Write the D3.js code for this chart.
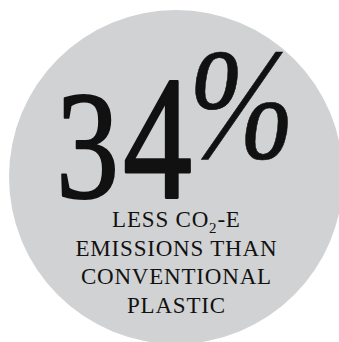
<!DOCTYPE html>
<html><head><meta charset="utf-8">
<script src="https://cdn.jsdelivr.net/npm/d3@7"></script>
<style>html,body{margin:0;padding:0;background:#fff;}svg{display:block}</style>
</head><body>
<script>
// ---- data ----
const value = [34];
const valueSuffix = ["%"];
const labelLines = ["LESS CO₂-E", "EMISSIONS THAN", "CONVENTIONAL", "PLASTIC"];

// ---- layout ----
const W = 339, H = 342;
const circle = {cx: 176, cy: 177, r: 167, fill: "#d1d2d4"};
const ink = "#111";
const serif = "'Liberation Serif', 'Times New Roman', serif";

// target ink boxes for headline glyphs [x0, y0, x1, y1]
const glyphBoxes = [[62, 93, 115, 198], [125, 80, 190, 197], [195, 52, 288, 160]];
const glyphStyles = ["normal", "normal", "italic"];
const glyphStroke = [2, 2.5, 0.6];

const svg = d3.select("body").append("svg").attr("width", W).attr("height", H);

svg.append("circle").attr("cx", circle.cx).attr("cy", circle.cy).attr("r", circle.r).attr("fill", circle.fill);

const ctx = document.createElement("canvas").getContext("2d");
const F = 150;
function inkBox(ch, style) {
  ctx.font = `${style} ${F}px 'Liberation Serif'`;
  ctx.textBaseline = "alphabetic"; ctx.textAlign = "left";
  const m = ctx.measureText(ch);
  return {x0: -m.actualBoundingBoxLeft, x1: m.actualBoundingBoxRight, y0: -m.actualBoundingBoxAscent, y1: m.actualBoundingBoxDescent};
}

const glyphs = String(value[0]).split("").concat(valueSuffix);
glyphs.forEach((ch, i) => {
  const b = inkBox(ch, glyphStyles[i]);
  const t = glyphBoxes[i];
  const sx = (t[2] - t[0]) / (b.x1 - b.x0);
  const sy = (t[3] - t[1]) / (b.y1 - b.y0);
  const tx = t[0] - sx * b.x0, ty = t[1] - sy * b.y0;
  svg.append("text")
    .attr("transform", `translate(${tx},${ty}) scale(${sx},${sy})`)
    .attr("font-family", serif).attr("font-size", F).attr("font-style", glyphStyles[i])
    .attr("fill", ink).attr("stroke", ink).attr("stroke-width", glyphStroke[i])
    .attr("stroke-linejoin", "round").text(ch);
});

// label lines
const ls = 0.8;
const lineY = d3.scaleLinear().domain([0, labelLines.length - 1]).range([227, 312.5]);
labelLines.forEach((line, i) => {
  const t = svg.append("text").attr("x", 176 + ls / 2).attr("y", lineY(i))
    .attr("text-anchor", "middle").attr("font-family", serif).attr("font-size", 23)
    .attr("letter-spacing", ls).attr("fill", ink);
  const parts = line.split(/(₂)/);
  let shifted = false;
  parts.forEach(p => {
    if (!p) return;
    if (p === "₂") {
      t.append("tspan").attr("font-size", 15).attr("dy", 6).text("2");
      shifted = true;
    } else {
      const s = t.append("tspan").text(p);
      if (shifted) { s.attr("dy", -6); shifted = false; }
    }
  });
});
</script>
</body></html>
